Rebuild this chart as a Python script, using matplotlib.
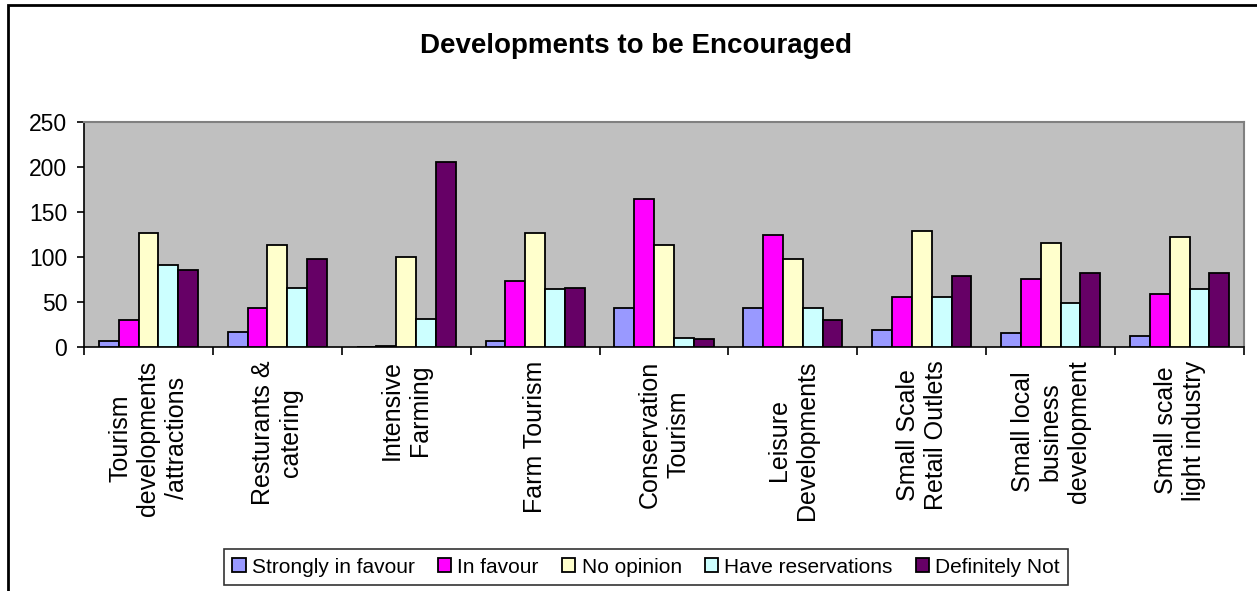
import matplotlib
matplotlib.use("Agg")
import matplotlib.pyplot as plt
import numpy as np
from matplotlib.patches import Rectangle

# categories and series
categories = ["Tourism\ndevelopments\n/attractions", "Resturants &\ncatering",
              "Intensive\nFarming", "Farm Tourism", "Conservation\nTourism",
              "Leisure\nDevelopments", "Small Scale\nRetail Outlets",
              "Small local\nbusiness\ndevelopment", "Small scale\nlight industry"]
series_names = ["Strongly in favour", "In favour", "No opinion",
                "Have reservations", "Definitely Not"]
strongly = [7, 17, 0, 7, 43, 43, 19, 16, 12]
in_favour = [30, 43, 1, 73, 164, 124, 56, 75, 59]
no_opinion = [127, 113, 100, 127, 113, 98, 129, 115, 122]
reservations = [91, 66, 31, 64, 10, 43, 56, 49, 64]
definitely_not = [85, 98, 206, 66, 9, 30, 79, 82, 82]
colors = ["#9999FF", "#FF00FF", "#FFFFCC", "#CCFFFF", "#660066"]

plt.rcParams['font.family'] = ['Liberation Sans', 'DejaVu Sans']

fig = plt.figure(figsize=(12.57, 5.91), dpi=100)
ax = fig.add_axes([0.0668, 0.4129, 0.9229, 0.3807])

data = [strongly, in_favour, no_opinion, reservations, definitely_not]
x = np.arange(len(categories))
w = 1 / 6.5
for i, (vals, name) in enumerate(zip(data, series_names)):
    ax.bar(x + (i - 2) * w, vals, width=w, color=colors[i], edgecolor="black",
           linewidth=1.3, label=name, zorder=3)

ax.set_facecolor("#C0C0C0")
ax.set_xlim(-0.5, len(categories) - 0.5)
ax.set_ylim(0, 250)
ax.set_yticks(range(0, 251, 50))
ax.tick_params(axis="y", labelsize=16.5, length=5, width=1.2, direction="out", pad=7)

# category labels in the middle, ticks on the boundaries
ax.set_xticks(np.arange(len(categories) + 1) - 0.5)
ax.set_xticklabels([])
ax.tick_params(axis="x", length=6, width=1.2, direction="out")
for xi, lab in zip(x, categories):
    ax.text(xi, -0.06, lab, transform=ax.get_xaxis_transform(), rotation=90,
            ha="center", va="top", multialignment="center", fontsize=18,
            linespacing=1.22)

for s in ["top", "right"]:
    ax.spines[s].set_color("#808080")
    ax.spines[s].set_linewidth(1.5)
for s in ["left", "bottom"]:
    ax.spines[s].set_color("black")
    ax.spines[s].set_linewidth(1.2)

fig.text(0.506, 0.922, "Developments to be Encouraged", ha="center", va="center",
         fontsize=20, fontweight="bold")

leg = fig.legend(loc="center", bbox_to_anchor=(0.514, 0.0406), ncol=5,
                 fontsize=15, frameon=True, fancybox=False, edgecolor="black",
                 handlelength=0.65, handleheight=0.65, handletextpad=0.3,
                 columnspacing=1.1, borderpad=0.4, borderaxespad=0)
leg.get_frame().set_linewidth(1.2)

# outer chart border
fig.patches.append(Rectangle((8 / 1257, -0.1), 1.2, 1.1 - 5 / 591,
                             transform=fig.transFigure, fill=False,
                             edgecolor="black", linewidth=2))

fig.savefig("out.png", dpi=100)
